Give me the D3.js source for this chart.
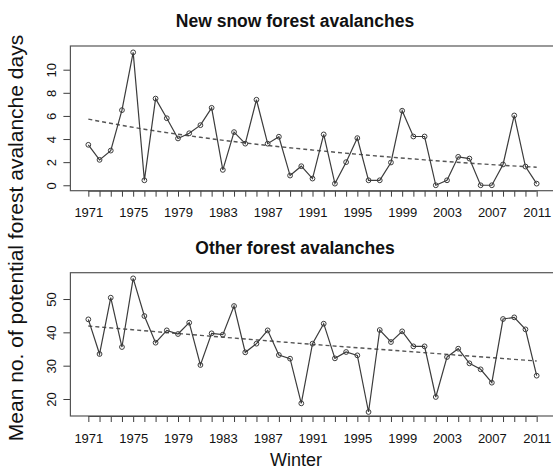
<!DOCTYPE html>
<html>
<head>
<meta charset="utf-8">
<script src="https://cdn.jsdelivr.net/npm/d3@7"></script>
<style>
  html, body { margin: 0; padding: 0; background: #fff; }
  svg { display: block; font-family: "Liberation Sans", Arial, sans-serif; }
</style>
</head>
<body>
<svg id="chart" width="553" height="471"></svg>
<script>
// Winters 1971–2011
const years = d3.range(1971, 2012);

// Mean number of potential new-snow forest avalanche days per winter
const newSnow = [3.5, 2.2, 3.0, 6.5, 11.5, 0.43, 7.5, 5.8, 4.05, 4.5,
                 5.2, 6.7, 1.33, 4.6, 3.6, 7.4, 3.6, 4.2, 0.84, 1.65,
                 0.58, 4.4, 0.14, 2.0, 4.08, 0.43, 0.43, 1.97, 6.45, 4.22,
                 4.22, 0.0, 0.43, 2.46, 2.31, 0.0, 0.0, 1.8, 6.04, 1.62,
                 0.14];

// Mean number of potential other forest avalanche days per winter
const otherAval = [43.9, 33.5, 50.4, 35.6, 56.2, 44.9, 36.9, 40.6, 39.5, 42.9,
                   30.2, 39.7, 39.3, 47.9, 34.0, 36.6, 40.6, 33.2, 32.1, 18.7,
                   36.6, 42.6, 32.2, 34.1, 33.1, 16.1, 40.7, 37.1, 40.3, 35.8,
                   35.8, 20.6, 32.6, 35.1, 30.7, 28.9, 24.9, 44.0, 44.5, 40.9,
                   27.0];

// Fitted trend values
const trendYears = [1971, 1976, 1981, 1986, 1991, 1996, 2001, 2006, 2011];
const newSnowTrend = [5.72, 4.85, 4.15, 3.55, 3.05, 2.6, 2.2, 1.85, 1.56];
const otherTrendYears = [1971, 1981, 1991, 2001, 2011];
const otherTrend = [41.9, 39.1, 36.4, 33.9, 31.4];

// Axis tick values
const xLabelYears = [1971, 1975, 1979, 1983, 1987, 1991, 1995, 1999, 2003, 2007, 2011];
const newSnowTicks = [0, 2, 4, 6, 8, 10];
const otherTicks = [20, 30, 40, 50];

const titles = ["New snow forest avalanches", "Other forest avalanches"];

const svg = d3.select("#chart");
svg.append("rect").attr("width", 553).attr("height", 471).attr("fill", "#fff");

const ink = "#3c3c3c";
const x = d3.scaleLinear().domain([1969.4, 2012.6]).range([70.4, 554.6]);

const panels = [
  { title: titles[0], values: newSnow, tYears: trendYears, trend: newSnowTrend,
    ticks: newSnowTicks, domain: [-0.47, 12.05], top: 46, bottom: 190.7, titleY: 27 },
  { title: titles[1], values: otherAval, tYears: otherTrendYears, trend: otherTrend,
    ticks: otherTicks, domain: [14.9, 57.9], top: 272.7, bottom: 416, titleY: 254 }
];

panels.forEach(p => {
  const y = d3.scaleLinear().domain(p.domain).range([p.bottom, p.top]);
  const g = svg.append("g");

  // panel title
  g.append("text")
    .attr("x", 295).attr("y", p.titleY)
    .attr("text-anchor", "middle")
    .attr("font-weight", "bold")
    .attr("font-size", 17.5)
    .attr("fill", "#111")
    .text(p.title);

  // x axis: a tick per winter, label every 4th
  const xAxis = d3.axisBottom(x)
    .tickValues(years)
    .tickSize(6)
    .tickFormat(d => xLabelYears.includes(d) ? String(d) : "");
  const gx = g.append("g").attr("transform", `translate(0,${p.bottom})`).call(xAxis);
  gx.select(".domain").attr("d", `M${x(1971)},0.5H${x(2011)}`).attr("stroke", ink);
  gx.selectAll(".tick line").attr("stroke", ink);
  gx.selectAll(".tick text")
    .attr("y", 26.5).attr("dy", null)
    .attr("font-size", 13).attr("fill", "#111")
    .attr("font-family", "'Liberation Sans', Arial, sans-serif");

  // y axis with rotated labels
  const yAxis = d3.axisLeft(y).tickValues(p.ticks).tickSize(7).tickFormat(d3.format("d"));
  const gy = g.append("g").attr("transform", `translate(${x.range()[0]},0)`).call(yAxis);
  gy.select(".domain").remove();
  gy.selectAll(".tick line").attr("stroke", ink);
  gy.selectAll(".tick text")
    .attr("x", null).attr("dy", null)
    .attr("transform", "translate(-14.5,0) rotate(-90)")
    .attr("text-anchor", "middle")
    .attr("font-size", 13).attr("fill", "#111")
    .attr("font-family", "'Liberation Sans', Arial, sans-serif");

  // plot frame
  g.append("rect")
    .attr("x", x.range()[0]).attr("y", p.top)
    .attr("width", x.range()[1] - x.range()[0])
    .attr("height", p.bottom - p.top)
    .attr("fill", "none").attr("stroke", "#555").attr("stroke-width", 1.2);

  // trend
  g.append("path")
    .datum(p.tYears.map((yr, i) => [yr, p.trend[i]]))
    .attr("fill", "none").attr("stroke", "#555").attr("stroke-width", 1.4)
    .attr("stroke-dasharray", "4,3")
    .attr("d", d3.line().x(d => x(d[0])).y(d => y(d[1])).curve(d3.curveMonotoneX));

  // series line
  const pts = years.map((yr, i) => [yr, p.values[i]]);
  g.append("path")
    .datum(pts)
    .attr("fill", "none").attr("stroke", ink).attr("stroke-width", 1.2)
    .attr("d", d3.line().x(d => x(d[0])).y(d => y(d[1])));

  // open circle markers
  g.selectAll("circle.pt").data(pts).join("circle")
    .attr("class", "pt")
    .attr("cx", d => x(d[0])).attr("cy", d => y(d[1]))
    .attr("r", 2.4)
    .attr("fill", "none").attr("stroke", ink).attr("stroke-width", 1);
});

// shared axis titles
svg.append("text")
  .attr("transform", "translate(23,238) rotate(-90)")
  .attr("text-anchor", "middle")
  .attr("font-size", 21).attr("fill", "#111")
  .text("Mean no. of potential forest avalanche days");

svg.append("text")
  .attr("x", 296).attr("y", 466)
  .attr("text-anchor", "middle")
  .attr("font-size", 18).attr("fill", "#111")
  .text("Winter");
</script>
</body>
</html>
